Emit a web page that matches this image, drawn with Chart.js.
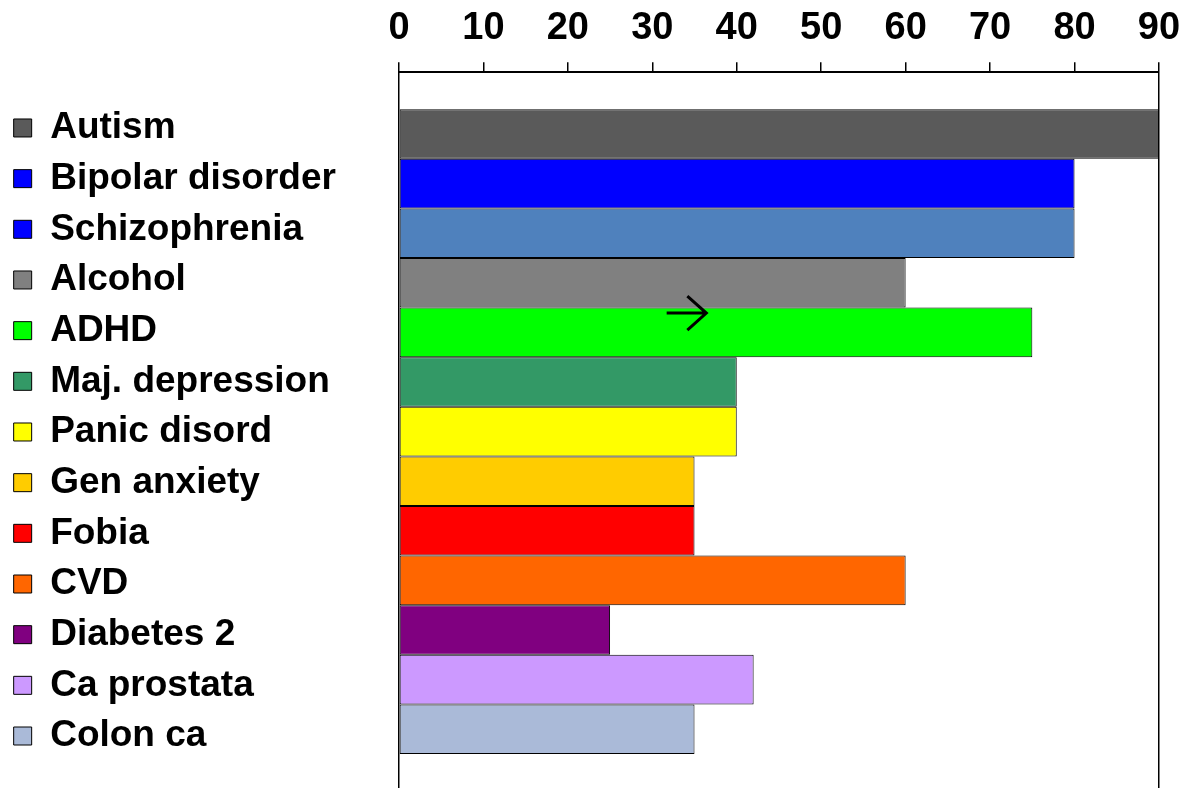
<!DOCTYPE html>
<html>
<head>
<meta charset="utf-8">
<script src="https://cdn.jsdelivr.net/npm/chart.js@4/dist/chart.umd.min.js"></script>
<style>
  html, body { margin: 0; padding: 0; background: #fff; overflow: hidden; }
  #wrap { width: 1186px; height: 792px; position: relative; }
</style>
</head>
<body>
<div id="wrap"><canvas id="barChart"></canvas></div>
<script>
// dados
const categories = ['Autism', 'Bipolar disorder', 'Schizophrenia', 'Alcohol', 'ADHD', 'Maj. depression',
  'Panic disord', 'Gen anxiety', 'Fobia', 'CVD', 'Diabetes 2', 'Ca prostata', 'Colon ca'];
const values = [90, 80, 80, 60, 75, 40, 40, 35, 35, 60, 25, 42, 35];
const xTicks = [0, 10, 20, 30, 40, 50, 60, 70, 80, 90];

const barColors = ['#5a5a5a', '#0000ff', '#4f81bd', '#808080', '#00ff00', '#339966', '#ffff00',
  '#ffcc00', '#ff0000', '#ff6600', '#800080', '#cc99ff', '#aabad8'];
// a legenda do Schizophrenia aparece azul puro no original
const legendColors = ['#5a5a5a', '#0000ff', '#0000ff', '#808080', '#00ff00', '#339966', '#ffff00',
  '#ffcc00', '#ff0000', '#ff6600', '#800080', '#cc99ff', '#aabad8'];

// seta desenhada sobre a barra ADHD
const arrowNote = { category: 'ADHD', from: 31.7, to: 36.4 };

const FONT = 'Liberation Sans, Arial, sans-serif';

const datasets = categories.map((name, i) => ({
  label: name,
  data: [values[i]],
  backgroundColor: barColors[i],
  borderColor: '#000',
  borderWidth: 1,
  borderSkipped: false,
  barPercentage: 1,
  categoryPercentage: 0.897
}));

const arrowPlugin = {
  id: 'arrowNote',
  afterDatasetsDraw(chart) {
    const idx = categories.indexOf(arrowNote.category);
    const bar = chart.getDatasetMeta(idx).data[0];
    if (!bar) return;
    const x = chart.scales.x;
    const x0 = x.getPixelForValue(arrowNote.from);
    const x1 = x.getPixelForValue(arrowNote.to);
    const y = bar.y - bar.height / 2 + 5.5;
    const ctx = chart.ctx;
    ctx.save();
    ctx.strokeStyle = '#000';
    ctx.lineWidth = 3;
    ctx.beginPath();
    ctx.moveTo(x0, y);
    ctx.lineTo(x1, y);
    ctx.moveTo(x1 - 19, y - 17);
    ctx.lineTo(x1, y);
    ctx.lineTo(x1 - 19, y + 17);
    ctx.stroke();
    ctx.restore();
  }
};

const ctx = document.getElementById('barChart').getContext('2d');
new Chart(ctx, {
  type: 'bar',
  data: { labels: [''], datasets: datasets },
  options: {
    indexAxis: 'y',
    responsive: true,
    maintainAspectRatio: false,
    animation: false,
    layout: { padding: { top: -5.4, right: 27, bottom: 1, left: 0 } },
    scales: {
      x: {
        position: 'top',
        min: 0,
        max: 90,
        afterBuildTicks: s => { s.ticks = xTicks.map(v => ({ value: v })); },
        afterFit: s => { s.paddingRight = 0; s.paddingLeft = 0; },
        ticks: {
          color: '#000',
          font: { family: FONT, size: 38, weight: 'bold' },
          padding: 11,
          maxRotation: 0
        },
        grid: {
          color: c => (c.index === 0 || c.index === xTicks.length - 1) ? '#000' : 'rgba(0,0,0,0)',
          lineWidth: 1.5,
          tickColor: '#000',
          tickLength: 10,
          tickWidth: 1.5
        },
        border: { display: true, color: '#000', width: 2 }
      },
      y: {
        display: true,
        ticks: { display: false },
        grid: { display: false },
        border: { display: false },
        afterFit: s => { s.width = 53; }
      }
    },
    plugins: {
      tooltip: { enabled: false },
      legend: {
        position: 'left',
        align: 'start',
        maxWidth: 400,
        title: { display: true, text: ' ', font: { size: 10 }, padding: { top: 89.2, bottom: 0 } },
        labels: {
          color: '#000',
          font: { family: FONT, size: 37, weight: 'bold' },
          boxWidth: 18,
          boxHeight: 18,
          padding: 13.67,
          generateLabels: chart => categories.map((name, i) => ({
            text: name,
            fillStyle: legendColors[i],
            strokeStyle: '#000',
            fontColor: '#000',
            lineWidth: 1,
            hidden: false,
            datasetIndex: i
          }))
        }
      }
    }
  },
  plugins: [arrowPlugin]
});
</script>
</body>
</html>
